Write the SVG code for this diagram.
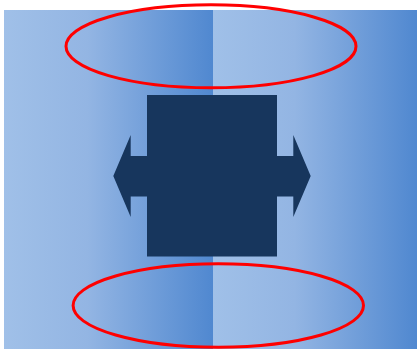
<svg xmlns="http://www.w3.org/2000/svg" width="417" height="349" viewBox="0 0 417 349">
<defs>
<linearGradient id="g" x1="0" y1="0" x2="1" y2="0">
<stop offset="0" stop-color="#a0c0e8"/>
<stop offset="0.4" stop-color="#93b5e3"/>
<stop offset="1" stop-color="#5088d0"/>
</linearGradient>
<style>
.panel{fill:url(#g)}
.dark{fill:#17365d}
.ring{fill:none;stroke:#ff0000;stroke-width:3}
</style>
</defs>
<rect width="417" height="349" fill="#ffffff"/>
<g id="background">
<rect class="panel" x="4" y="10" width="209" height="339"/>
<rect class="panel" x="213" y="10" width="204" height="339"/>
</g>
<g id="center-shape">
<polygon class="dark" points="113.3,176 130.7,135 130.7,156 147,156 147,95 277,95 277,156 293.3,156 293.3,135 310.7,176 293.3,217 293.3,196.5 277,196.5 277,256.5 147,256.5 147,196.5 130.7,196.5 130.7,217"/>
</g>
<g id="top-ellipse">
<ellipse class="ring" cx="211" cy="46.3" rx="145" ry="41.5"/>
</g>
<g id="bottom-ellipse">
<ellipse class="ring" cx="218.3" cy="305.5" rx="145.2" ry="41.7"/>
</g>
</svg>
